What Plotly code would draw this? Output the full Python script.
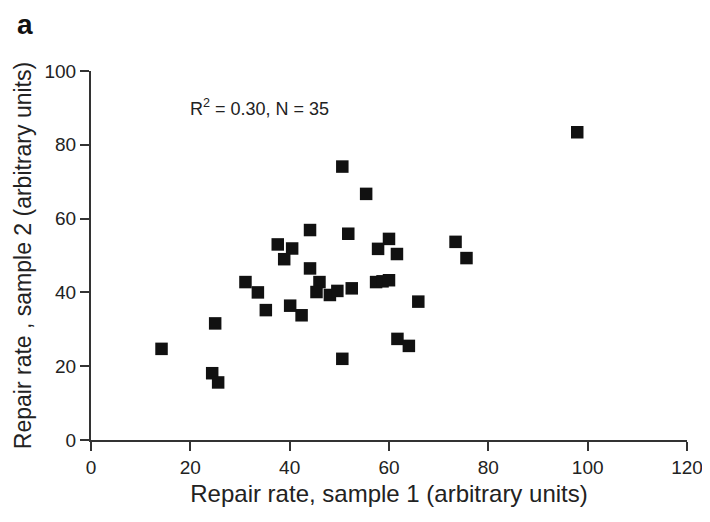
import plotly.graph_objects as go

# Data
sample1 = [97.9, 50.6, 55.4, 44.1, 51.8, 37.6, 40.5, 60.0, 57.8, 61.6, 38.9, 73.4,
           75.6, 44.1, 31.1, 33.6, 46.0, 45.4, 48.1, 49.6, 52.5, 57.4, 58.7, 60.0,
           65.9, 35.2, 40.1, 42.4, 25.0, 14.2, 50.6, 61.7, 64.0, 24.4, 25.6]
sample2 = [83.4, 74.1, 66.7, 56.9, 55.9, 53.0, 51.9, 54.5, 51.8, 50.4, 49.0, 53.7,
           49.3, 46.5, 42.8, 40.0, 42.8, 40.1, 39.3, 40.4, 41.1, 42.8, 43.0, 43.3,
           37.5, 35.2, 36.4, 33.8, 31.6, 24.7, 22.0, 27.4, 25.5, 18.1, 15.6]
x_ticks = [0, 20, 40, 60, 80, 100, 120]
y_ticks = [0, 20, 40, 60, 80, 100]
stat_text = "R<sup>2</sup> = 0.30, N = 35"
panel_label = "a"

FONT = "Arial, Liberation Sans, sans-serif"
INK = "#222222"

# the page body has an 8px margin, so the figure is sized to fit inside the window
OFF = 8
W, H = 710 - OFF, 522 - OFF
L, R, T, B = 91 - OFF, 23, 71 - OFF, 82
plot_w = W - L - R
plot_h = H - T - B

fig = go.Figure()
fig.add_trace(go.Scatter(
    x=sample1, y=sample2, mode="markers",
    marker=dict(symbol="square", size=12.5, color="#111111", line=dict(width=0)),
    showlegend=False, hoverinfo="x+y",
))

axis_common = dict(
    showgrid=False, zeroline=False, showline=True, linecolor="#333333", linewidth=2,
    ticks="outside", ticklen=9, tickwidth=2, tickcolor="#333333", automargin=False,
    tickfont=dict(family=FONT, size=19, color=INK),
)

fig.update_layout(
    width=W, height=H,
    margin=dict(l=L, r=R, t=T, b=B),
    paper_bgcolor="white", plot_bgcolor="white",
    xaxis=dict(range=[0, 120], tickvals=x_ticks, **axis_common,
               title=dict(text="Repair rate, sample 1 (arbitrary units)",
                          font=dict(family=FONT, size=24, color=INK), standoff=8)),
    yaxis=dict(range=[0, 100], tickvals=y_ticks, **axis_common,
               title=dict(text="Repair rate , sample 2 (arbitrary units)",
                          font=dict(family=FONT, size=23, color=INK), standoff=6)),
    annotations=[
        dict(text=stat_text, x=34.0, y=90.2, xref="x", yref="y", showarrow=False,
             font=dict(family=FONT, size=18, color=INK)),
        dict(text="<b>" + panel_label + "</b>",
             x=(25 - OFF - L) / plot_w, y=(H - B - (24 - OFF)) / plot_h,
             xref="paper", yref="paper", showarrow=False,
             xanchor="center", yanchor="middle",
             font=dict(family=FONT, size=28, color="#111111")),
    ],
)

fig.write_html("out.html")
